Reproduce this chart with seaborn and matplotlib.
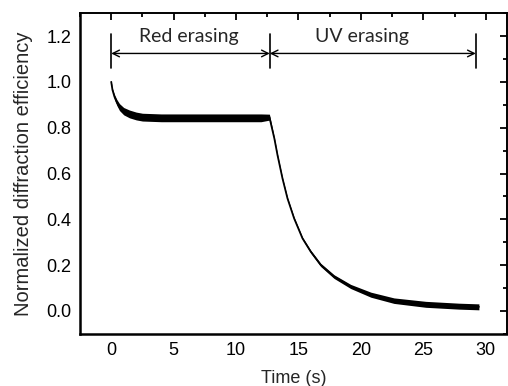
import matplotlib
matplotlib.use("Agg")
import matplotlib.pyplot as plt
import seaborn as sns
import pandas as pd
from matplotlib.ticker import MultipleLocator

# ---- data ----
time_s = [0.0, 0.1, 0.26, 0.45, 0.66, 1.0, 1.46, 2.0, 2.5, 4.0, 6.0, 8.0, 10.0, 12.0, 12.67,
          13.07, 13.32, 13.72, 14.12, 14.65, 15.32, 15.98, 16.78, 17.85, 19.18,
          20.8, 22.65, 25.2, 27.85, 29.45]
efficiency = [1.0, 0.965, 0.935, 0.91, 0.89, 0.872, 0.86, 0.851, 0.846, 0.843, 0.843, 0.843, 0.843, 0.843, 0.846,
              0.752, 0.68, 0.578, 0.491, 0.404, 0.317, 0.259, 0.201, 0.150, 0.107,
              0.071, 0.045, 0.029, 0.021, 0.018]
noise_halfwidth = [0.003, 0.006, 0.01, 0.013, 0.015, 0.016, 0.017, 0.017, 0.017, 0.017, 0.017, 0.017, 0.017, 0.017, 0.013,
                   0.004, 0.004, 0.004, 0.004, 0.005, 0.005, 0.006, 0.007, 0.008, 0.009,
                   0.011, 0.012, 0.013, 0.013, 0.013]

xticks = [0, 5, 10, 15, 20, 25, 30]
yticks = [0.0, 0.2, 0.4, 0.6, 0.8, 1.0, 1.2]
phase_labels = ["Red erasing", "UV erasing"]
phase_bounds = [0.0, 12.7, 29.2]

# layout constants (label anchor positions in data units)
label_x = [6.2, 20.1]
label_y = 1.2
arrow_y = 1.124
bar_y = (1.06, 1.21)

sns.set_style("white")
plt.rcParams["font.family"] = ["Liberation Sans", "DejaVu Sans"]

df = pd.DataFrame({"t": time_s, "v": efficiency})
lower = [v - h for v, h in zip(efficiency, noise_halfwidth)]
upper = [v + h for v, h in zip(efficiency, noise_halfwidth)]

fig = plt.figure(figsize=(5.08, 3.86), dpi=100)
ax = fig.add_axes([0.1575, 0.135, 0.8405, 0.831])

ax.fill_between(time_s, lower, upper, color="black", linewidth=0)
sns.lineplot(data=df, x="t", y="v", ax=ax, color="black", linewidth=1.3)

ax.set_xlim(-2.5, 31.7)
ax.set_ylim(-0.1, 1.3)
ax.set_xticks(xticks)
ax.set_yticks(yticks)
ax.set_yticklabels([f"{v:.1f}" for v in yticks])
ax.xaxis.set_minor_locator(MultipleLocator(2.5))
ax.yaxis.set_minor_locator(MultipleLocator(0.1))
ax.tick_params(which="both", direction="in", top=True, right=True, width=1.3,
               labelsize=13, colors="black", pad=6)
ax.tick_params(which="major", length=5)
ax.tick_params(which="minor", length=3)
for side in ["left", "bottom"]:
    ax.spines[side].set_linewidth(1.8)
for side in ["top", "right"]:
    ax.spines[side].set_linewidth(1.4)
for sp in ax.spines.values():
    sp.set_color("black")

ax.set_xlabel("Time (s)", fontsize=13, labelpad=8)
ax.set_ylabel("Normalized diffraction efficiency", fontsize=14.5, labelpad=10)

# phase annotations
for xb in phase_bounds:
    ax.plot([xb, xb], list(bar_y), color="black", linewidth=1.2)
for i, lab in enumerate(phase_labels):
    x0, x1 = phase_bounds[i], phase_bounds[i + 1]
    ax.annotate("", xy=(x0, arrow_y), xytext=(x1, arrow_y),
                arrowprops=dict(arrowstyle="<->", color="black", lw=1.0,
                                shrinkA=0, shrinkB=0, mutation_scale=12))
    ax.text(label_x[i], label_y, lab, ha="center", va="center", fontsize=14,
            family=["Lato", "DejaVu Sans"])

fig.savefig("out.png", dpi=100)
